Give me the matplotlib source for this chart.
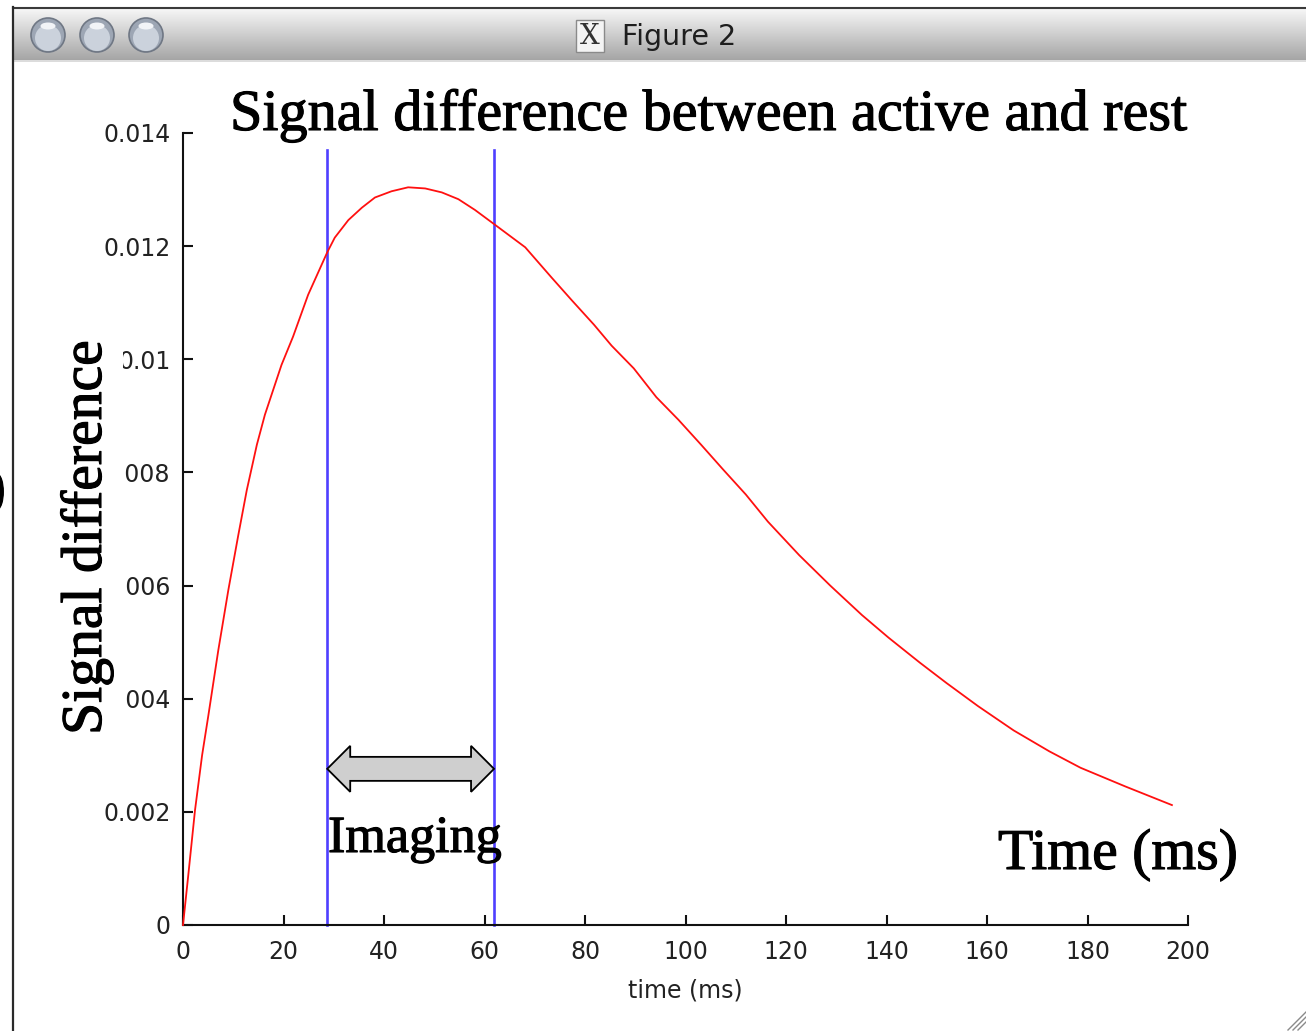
import numpy as np
import matplotlib
matplotlib.use("Agg")
import matplotlib.pyplot as plt
import matplotlib.patheffects as pe
from matplotlib.patches import Rectangle, Circle, Polygon, Ellipse

# ---------------- data ----------------
time_ms = [0, 1.05, 2.39, 3.8, 5.04, 7.03, 9.02, 11.0, 12.7, 14.7, 16.3, 19.6,
           21.9, 24.9, 28.7, 30.2, 32.9, 35.6, 38.2, 41.5, 44.8, 48.2, 51.5,
           54.8, 58.1, 61.9, 68.1, 73.3, 77.3, 81.8, 85.3, 89.7, 94.2, 98.6,
           103.1, 107.5, 112.0, 116.4, 122.6, 128.8, 135.1, 140.4, 146.6,
           151.9, 158.2, 165.3, 172.4, 178.6, 187.5, 196.8]
signal_diff = [0, 0.00088, 0.00203, 0.0030, 0.0037, 0.00486, 0.00592, 0.00689,
               0.00769, 0.00849, 0.00902, 0.00990, 0.01040, 0.01114, 0.01189,
               0.01215, 0.01246, 0.01268, 0.01286, 0.01297, 0.01304, 0.01302,
               0.01295, 0.01283, 0.01264, 0.01239, 0.01198, 0.01145, 0.01105,
               0.01061, 0.01024, 0.00984, 0.00933, 0.00893, 0.00849, 0.00805,
               0.00761, 0.00713, 0.00654, 0.00600, 0.00548, 0.00508, 0.00464,
               0.00428, 0.00387, 0.00344, 0.00307, 0.00278, 0.00245, 0.00212]
imaging_window = [28.7, 61.9]
window_top = 0.0137
arrow_level = 0.00276
x_ticks = [0, 20, 40, 60, 80, 100, 120, 140, 160, 180, 200]
y_ticks = [0, 0.002, 0.004, 0.006, 0.008, 0.010, 0.012, 0.014]
y_tick_labels = ["0", "0.002", "0.004", "0.006", "0.008", "0.01", "0.012", "0.014"]

W, H = 1306, 1031
fig = plt.figure(figsize=(W / 100, H / 100), dpi=100)
fig.patch.set_facecolor("white")

# ---------------- main axes ----------------
L, R, B, T = 183, 1188, 925, 133
ax = fig.add_axes([L / W, 1 - B / H, (R - L) / W, (B - T) / H])
ax.plot(time_ms, signal_diff, color="#ff1010", lw=1.3, zorder=3, clip_on=False)
for xv in imaging_window:
    ax.plot([xv, xv], [0, window_top], color="#4f3fff", lw=1.9, zorder=2,
            clip_on=False)
ax.set_xlim(0, 200)
ax.set_ylim(0, 0.014)
ax.set_xticks(x_ticks)
ax.set_xticklabels([str(v) for v in x_ticks])
ax.set_yticks(y_ticks)
ax.set_yticklabels(y_tick_labels)
for s in ["top", "right"]:
    ax.spines[s].set_visible(False)
for s in ["left", "bottom"]:
    ax.spines[s].set_linewidth(1.5)
    ax.spines[s].set_color("#111111")
ax.tick_params(direction="in", length=7, width=1.5, color="#111111",
               labelsize=17, labelcolor="#222222")
ax.tick_params(axis="y", pad=9)
ax.tick_params(axis="x", pad=11)
ax.set_xlabel("time (ms)", fontsize=17, color="#222222", labelpad=10)

# ---------------- overlay in pixel coords ----------------
ov = fig.add_axes([0, 0, 1, 1], zorder=10)
ov.set_xlim(0, W)
ov.set_ylim(H, 0)
ov.axis("off")
ov.patch.set_alpha(0)

# title bar gradient
grad = np.linspace(0, 1, 60).reshape(-1, 1)
top_c = np.array([0.97, 0.97, 0.97])
bot_c = np.array([0.65, 0.65, 0.65])
img = top_c[None, None, :] * (1 - grad[:, :, None]) + bot_c[None, None, :] * grad[:, :, None]
ov.imshow(img, extent=[13, W, 60, 8], aspect="auto", zorder=1, interpolation="bilinear")
ov.plot([13, W], [7.5, 7.5], color="#3a3a3a", lw=1.5, zorder=2)
ov.plot([13, W], [60.5, 60.5], color="#d6d6d6", lw=1.2, zorder=2)
ov.plot([13, 13], [7, H], color="#2a2a2a", lw=1.6, zorder=2)

# window buttons
for cx in [48, 97, 146]:
    ov.add_patch(Circle((cx, 35), 17, facecolor="#9da6b4", edgecolor="#6f7784",
                        lw=1.2, zorder=3))
    ov.add_patch(Circle((cx, 38), 13, facecolor="#cbd2dc", edgecolor="none", zorder=3))
    ov.add_patch(Ellipse((cx, 26), 15, 7, facecolor="#f2f4f7", edgecolor="none", zorder=4))

# X icon + window title
ov.add_patch(Rectangle((576, 20), 28, 32, facecolor="#f4f4f4", edgecolor="#8a8a8a",
                       lw=1, zorder=3))
ov.text(590, 37, "X", family="DejaVu Serif", fontsize=20, color="#333333",
        ha="center", va="center", zorder=4)
ov.text(622, 37, "Figure 2", family="DejaVu Sans", fontsize=20.5, color="#1e1e1e",
        ha="left", va="center", zorder=4)

# resize grip
for k in range(3):
    o = 5 * k
    ov.plot([1288 + o, 1306], [1030, 1012 + o], color="#8a8a8a", lw=1.0, zorder=3)

# white box hiding part of y tick labels (pasted label)
ov.add_patch(Rectangle((16, 335), 107, 410, facecolor="white", edgecolor="none", zorder=2))

# double arrow for imaging window
disp0 = ax.transData.transform((imaging_window[0], arrow_level))
disp1 = ax.transData.transform((imaging_window[1], arrow_level))
x0p, x1p = disp0[0], disp1[0]
yc = H - disp0[1]
hl, hh, bh = 23, 23, 12
arrow_pts = [(x0p, yc), (x0p + hl, yc - hh), (x0p + hl, yc - bh), (x1p - hl, yc - bh),
             (x1p - hl, yc - hh), (x1p, yc), (x1p - hl, yc + hh), (x1p - hl, yc + bh),
             (x0p + hl, yc + bh), (x0p + hl, yc + hh)]
ov.add_patch(Polygon(arrow_pts, closed=True, facecolor="#cfcfcf", edgecolor="black",
                     lw=1.3, zorder=5))

serif = "Liberation Serif"
thick = [pe.withStroke(linewidth=0.8, foreground="black")]
t_title = ov.text(230, 130, "Signal difference between active and rest", family=serif,
                  fontsize=40, color="black", ha="left", va="baseline", zorder=6,
                  path_effects=thick)
t_ylab = ov.text(101, 537.5, "Signal difference", family=serif, fontsize=40,
                 color="black", ha="center", va="baseline", rotation=90,
                 rotation_mode="anchor", zorder=6, path_effects=thick)
t_img = ov.text(328, 852, "Imaging", family=serif, fontsize=36, color="black",
                ha="left", va="baseline", zorder=6, path_effects=thick)
t_time = ov.text(998, 869, "Time (ms)", family=serif, fontsize=40, color="black",
                 ha="left", va="baseline", zorder=6, path_effects=thick)
t_paren = ov.text(6, 492, ")", family=serif, fontsize=42, color="black",
                  ha="right", va="center", zorder=6, path_effects=thick)

# fit sizes to measured extents
renderer = fig.canvas.get_renderer()
for t, target, use_h in [(t_title, 958, False), (t_ylab, 395, True),
                         (t_img, 174, False), (t_time, 240, False)]:
    for _ in range(3):
        bb = t.get_window_extent(renderer)
        cur = bb.height if use_h else bb.width
        t.set_fontsize(t.get_fontsize() * target / cur)

fig.savefig("out.png", dpi=100)
